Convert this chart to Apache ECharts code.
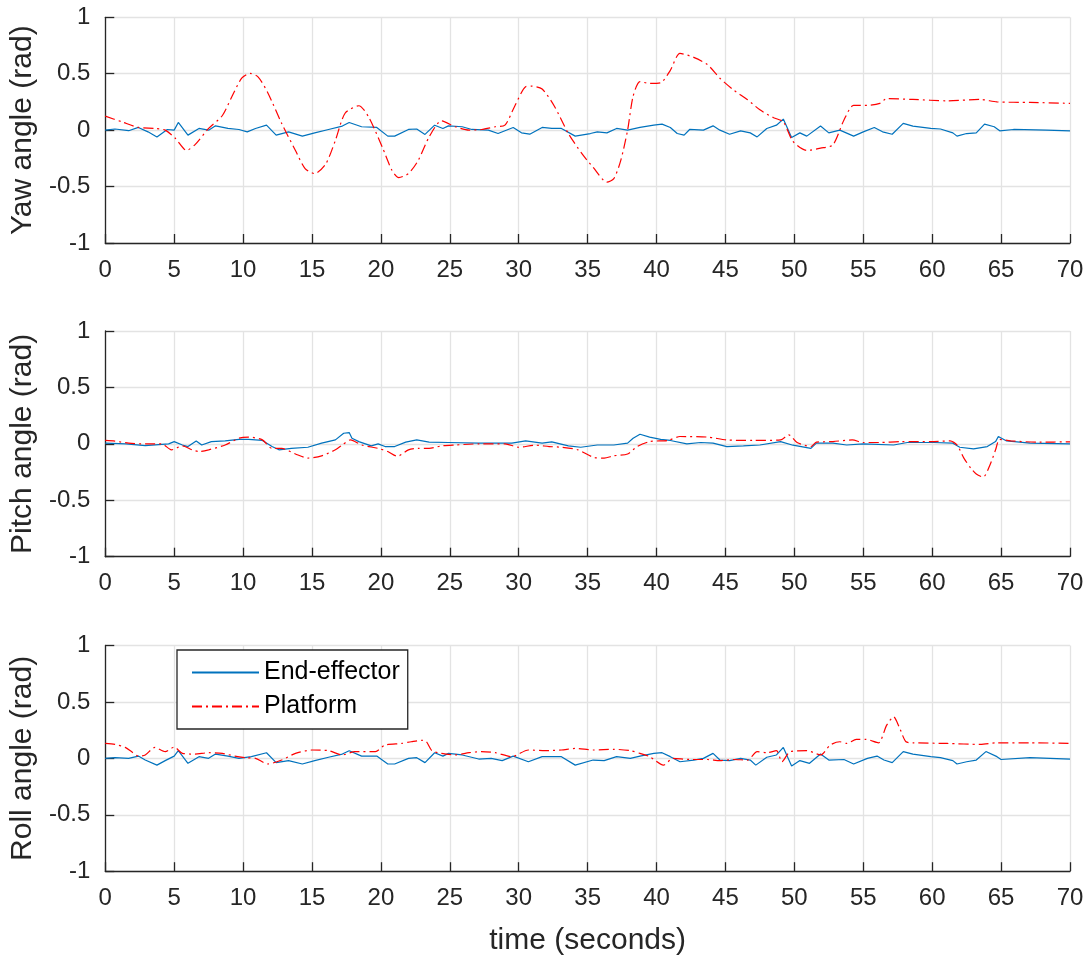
<!DOCTYPE html>
<html>
<head>
<meta charset="utf-8">
<script src="https://cdn.jsdelivr.net/npm/echarts@6/dist/echarts.min.js"></script>
<style>html,body{margin:0;padding:0;background:#fff;}#c{width:1088px;height:959px;}</style>
</head>
<body>
<div id="c"></div>
<script>
// ---- data: [time (s), angle (rad)] ----
var yawEnd = [[0,0],[0.7,0.01],[1.7,-0.005],[2.4,0.024],[3.1,-0.015],[3.75,-0.06],[4.5,0.006],[5.0,0],[5.3,0.068],[6.0,-0.044],[6.8,0.015],[7.5,0],[8.0,0.038],[8.9,0.015],[9.7,0.006],[10.3,-0.015],[10.9,0.015],[11.7,0.044],[12.4,-0.044],[13.3,-0.015],[14.3,-0.053],[15.2,-0.024],[16.2,0.006],[17.2,0.036],[17.7,0.068],[18.6,0.03],[19.7,0.024],[20.5,-0.053],[21.0,-0.053],[22.0,0.006],[22.6,0.01],[23.2,-0.038],[23.9,0.044],[24.5,0.015],[24.9,0.038],[25.9,0.03],[26.6,0.006],[27.8,0],[28.5,-0.03],[29.6,0.024],[30.2,-0.024],[30.8,-0.036],[31.7,0.024],[32.4,0.015],[33.1,0.015],[34.1,-0.053],[35.2,-0.03],[35.7,-0.015],[36.4,-0.024],[37.1,0.015],[37.9,0],[38.8,0.024],[39.8,0.044],[40.4,0.053],[41.0,0.024],[41.5,-0.03],[42.0,-0.044],[42.4,0.006],[43.4,0],[44.1,0.038],[44.6,0],[45.3,-0.036],[46.1,-0.006],[46.8,-0.024],[47.3,-0.06],[48.0,0.015],[48.7,0.044],[49.2,0.098],[49.8,-0.065],[50.4,-0.024],[50.9,-0.053],[51.9,0.036],[52.5,-0.024],[53.3,0],[54.3,-0.053],[55.0,-0.015],[55.8,0.024],[56.4,-0.015],[57.1,-0.036],[57.9,0.06],[58.6,0.036],[59.9,0.015],[60.6,0.01],[61.5,-0.024],[61.8,-0.053],[62.5,-0.03],[63.2,-0.024],[63.8,0.053],[64.5,0.03],[64.9,-0.006],[65.9,0.006],[68.3,0],[70,-0.006]];
var yawPlat = [[0,0.124],[1.2,0.074],[2.4,0.024],[3.6,0.015],[4.35,0],[5.1,-0.074],[5.9,-0.18],[6.5,-0.13],[7.5,0.015],[8.5,0.13],[9.2,0.3],[9.9,0.46],[10.5,0.503],[11.1,0.47],[11.8,0.33],[12.8,0.06],[13.8,-0.18],[14.5,-0.34],[15.2,-0.385],[16.0,-0.3],[16.7,-0.09],[17.4,0.15],[18.4,0.216],[19.1,0.12],[20.1,-0.15],[20.8,-0.355],[21.3,-0.42],[22.0,-0.385],[22.7,-0.27],[23.5,-0.06],[24.4,0.083],[25.4,0.03],[26.4,0],[27.3,0.006],[28.3,0.03],[29.0,0.044],[29.7,0.21],[30.5,0.385],[30.9,0.39],[31.7,0.364],[32.6,0.21],[33.6,-0.03],[34.6,-0.21],[35.4,-0.33],[36.4,-0.46],[36.9,-0.43],[37.4,-0.27],[37.9,0],[38.3,0.3],[38.8,0.43],[39.5,0.414],[40.3,0.42],[41.0,0.53],[41.7,0.68],[42.7,0.645],[43.7,0.58],[44.6,0.46],[45.6,0.355],[46.6,0.27],[47.5,0.18],[48.5,0.11],[49.2,0.074],[49.9,-0.1],[50.9,-0.18],[51.9,-0.16],[52.8,-0.13],[53.6,0.09],[54.3,0.22],[55.3,0.22],[56.2,0.237],[56.7,0.28],[58.6,0.272],[61.1,0.26],[63.5,0.272],[64.7,0.25],[67.1,0.246],[70,0.237]];
var pitchEnd = [[0,0.006],[1.5,0],[2.9,-0.015],[4.6,0],[5.0,0.02],[5.6,-0.01],[6.0,-0.024],[6.6,0.026],[7.0,-0.01],[7.7,0.02],[8.7,0.026],[9.7,0.04],[10.4,0.04],[11.4,0.03],[12.1,-0.024],[12.6,-0.053],[13.5,-0.04],[14.7,-0.03],[15.7,0.006],[16.7,0.035],[17.3,0.094],[17.7,0.1],[17.9,0.05],[18.4,0.02],[19.3,-0.018],[19.8,0],[20.3,-0.024],[21.0,-0.024],[21.8,0.015],[22.6,0.035],[23.5,0.015],[24.9,0.012],[27.1,0.006],[29.5,0.006],[30.5,0.026],[31.7,0.006],[32.4,0.018],[33.6,-0.018],[34.5,-0.03],[35.7,-0.01],[36.9,-0.01],[37.9,0.006],[38.3,0.05],[38.8,0.085],[39.5,0.06],[40.3,0.04],[41.0,0.03],[42.2,0],[43.2,0.012],[44.1,0.006],[45.1,-0.024],[46.3,-0.018],[47.5,-0.01],[49.0,0.02],[49.9,-0.012],[51.2,-0.04],[51.6,0.006],[52.8,0.006],[53.8,-0.01],[55.0,0],[57.2,-0.01],[58.2,0.012],[60.1,0.012],[61.5,0.006],[62.0,-0.03],[63.0,-0.044],[64.0,-0.024],[64.6,0.02],[64.8,0.065],[65.4,0.026],[67.1,0.006],[70,0]];
var pitchPlat = [[0,0.03],[0.7,0.024],[1.7,0.006],[2.9,0],[4.1,0],[4.8,-0.053],[5.6,-0.018],[6.3,-0.053],[6.8,-0.068],[7.5,-0.053],[8.7,-0.01],[9.7,0.05],[10.4,0.06],[11.4,0.035],[12.1,-0.04],[12.8,-0.04],[13.8,-0.09],[14.7,-0.126],[15.7,-0.106],[16.7,-0.053],[17.2,-0.01],[17.8,0.035],[18.6,-0.01],[19.8,-0.04],[20.5,-0.068],[21.2,-0.11],[22.0,-0.053],[22.7,-0.04],[23.5,-0.04],[24.4,-0.018],[25.4,-0.01],[27.1,0],[29.0,0],[30.0,-0.03],[31.2,-0.012],[32.2,-0.024],[33.1,-0.03],[34.3,-0.053],[35.4,-0.118],[36.2,-0.126],[36.9,-0.106],[37.9,-0.09],[38.6,-0.024],[39.5,0.02],[40.8,0.03],[41.7,0.065],[43.7,0.06],[45.1,0.035],[47.0,0.03],[49.0,0.035],[49.6,0.08],[50.2,0.012],[51.2,-0.024],[51.6,0.015],[52.8,0.02],[54.2,0.035],[55.0,0.012],[56.2,0.012],[57.7,0.02],[59.9,0.02],[61.3,0.026],[61.8,-0.01],[62.3,-0.126],[62.8,-0.215],[63.2,-0.268],[63.7,-0.294],[64.2,-0.185],[64.6,-0.053],[64.9,0.04],[65.7,0.026],[67.8,0.015],[70,0.018]];
var rollEnd = [[0,0],[0.7,0.006],[1.7,0],[2.4,0.02],[2.9,-0.015],[3.75,-0.06],[4.35,-0.02],[5.0,0.02],[5.3,0.068],[6.0,-0.044],[6.8,0.015],[7.5,0],[8.0,0.038],[8.9,0.02],[9.7,0],[10.6,0.015],[11.7,0.05],[12.4,-0.038],[13.3,-0.02],[14.3,-0.05],[15.2,-0.02],[16.2,0.01],[17.2,0.038],[17.7,0.068],[18.6,0.02],[19.7,0.02],[20.5,-0.05],[21.0,-0.05],[22.0,0],[22.6,0.006],[23.2,-0.038],[23.9,0.05],[24.5,0.02],[24.9,0.044],[25.9,0.03],[27.1,-0.006],[28.0,0],[28.8,-0.02],[29.6,0.02],[30.7,-0.03],[31.7,0.015],[33.1,0.015],[34.1,-0.06],[35.4,-0.015],[36.2,-0.02],[37.1,0.015],[38.1,0],[38.8,0.02],[39.8,0.044],[40.4,0.05],[41.0,0.015],[41.7,-0.03],[42.7,-0.015],[43.4,0],[44.1,0.044],[44.6,-0.015],[45.3,-0.02],[46.1,0],[46.8,-0.015],[47.2,-0.06],[48.0,0.01],[48.7,0.03],[49.2,0.097],[49.8,-0.068],[50.4,-0.02],[51.1,-0.044],[51.9,0.038],[52.5,-0.015],[53.6,-0.01],[54.3,-0.05],[55.3,0],[56.0,0.02],[56.5,-0.015],[57.1,-0.038],[57.9,0.06],[58.6,0.038],[59.9,0.015],[60.6,0.006],[61.5,-0.02],[61.8,-0.05],[62.5,-0.03],[63.2,-0.015],[63.9,0.06],[64.7,0.015],[65.0,-0.01],[67.1,0.006],[70,-0.006]];
var rollPlat = [[0,0.132],[0.7,0.124],[1.45,0.097],[1.9,0.06],[2.4,0.02],[2.9,0.03],[3.6,0.097],[4.35,0.06],[5.0,0.1],[5.6,0.044],[6.5,0.038],[7.5,0.05],[8.5,0.044],[9.4,0.02],[10.2,0.006],[10.9,0],[11.8,-0.05],[12.8,-0.015],[13.8,0.044],[15.0,0.074],[16.2,0.068],[17.2,0.03],[18.1,0.06],[19.6,0.06],[20.3,0.118],[21.5,0.132],[22.2,0.147],[22.97,0.16],[23.3,0.147],[23.7,0.068],[24.4,0.044],[25.4,0.03],[26.4,0.05],[27.3,0.06],[28.3,0.05],[29.5,0.015],[30.7,0.074],[31.9,0.068],[33.1,0.074],[34.1,0.088],[35.4,0.074],[36.9,0.08],[38.1,0.068],[38.8,0.044],[39.5,0.015],[40.5,-0.06],[41.2,0],[42.4,-0.01],[43.7,-0.01],[44.6,-0.02],[45.6,-0.01],[46.6,-0.015],[47.3,0.06],[48.0,0.05],[48.7,0.068],[49.1,-0.03],[49.7,0.06],[50.9,0.068],[51.9,0.03],[52.6,0.118],[53.3,0.147],[53.8,0.132],[54.5,0.168],[55.2,0.168],[56.1,0.138],[56.7,0.294],[57.2,0.368],[57.6,0.28],[58.1,0.147],[58.6,0.138],[61.1,0.132],[63.5,0.124],[64.7,0.138],[67.1,0.138],[70,0.132]];
var xTicks = [0,5,10,15,20,25,30,35,40,45,50,55,60,65,70];
var yTicks = [-1,-0.5,0,0.5,1];
var yNames = ['Yaw angle (rad)','Pitch angle (rad)','Roll angle (rad)'];
var xName = 'time (seconds)';
var seriesNames = ['End-effector','Platform'];

var FONT = 'Liberation Sans, Arial, Helvetica, sans-serif';
var chart = echarts.init(document.getElementById('c'), null, {renderer:'canvas'});
var tops = [17.3, 331, 645.5];
var H = 225.7;
var grids = [], xAxes = [], yAxes = [], series = [];
var ends = [yawEnd, pitchEnd, rollEnd], plats = [yawPlat, pitchPlat, rollPlat];
for (var i = 0; i < 3; i++) {
  grids.push({left:105, right:18, top:tops[i], height:H, containLabel:false});
  xAxes.push({
    type:'value', gridIndex:i, min:0, max:70, interval:5,
    name: i===2 ? xName : '', nameLocation:'middle', nameGap:55,
    nameTextStyle:{fontFamily:FONT, fontSize:30, color:'#262626'},
    axisLine:{show:true, onZero:false, lineStyle:{color:'#262626', width:1.3}},
    axisTick:{show:true, inside:true, length:9, lineStyle:{color:'#262626', width:1.3}},
    axisLabel:{fontFamily:FONT, fontSize:24, color:'#262626', margin:15,
      formatter:function(v){return xTicks.indexOf(v)>=0 ? String(v) : '';}},
    splitLine:{show:true, lineStyle:{color:'#e3e3e3', width:1.3}}
  });
  yAxes.push({
    type:'value', gridIndex:i, min:-1, max:1, interval:0.5,
    name: yNames[i], nameLocation:'middle', nameGap:59, nameRotate:90,
    nameTextStyle:{fontFamily:FONT, fontSize:30, color:'#262626'},
    axisLine:{show:true, lineStyle:{color:'#262626', width:1.3}},
    axisTick:{show:true, inside:true, length:9, lineStyle:{color:'#262626', width:1.3}},
    axisLabel:{fontFamily:FONT, fontSize:24, color:'#262626', margin:15,
      formatter:function(v){return yTicks.indexOf(v)>=0 ? String(v) : '';}},
    splitLine:{show:true, lineStyle:{color:'#e3e3e3', width:1.3}}
  });
  series.push({
    name:seriesNames[0], type:'line', xAxisIndex:i, yAxisIndex:i, data:ends[i],
    showSymbol:false, symbol:'none', animation:false,
    lineStyle:{color:'#0072BD', width:1.2}, itemStyle:{color:'#0072BD'}
  });
  series.push({
    name:seriesNames[1], type:'line', xAxisIndex:i, yAxisIndex:i, data:plats[i],
    showSymbol:false, symbol:'none', animation:false, smooth:0.25,
    lineStyle:{color:'#FF0000', width:1.2, type:[10,4,2,4]}, itemStyle:{color:'#FF0000'}
  });
}
chart.setOption({
  backgroundColor:'#ffffff',
  animation:false,
  grid:grids, xAxis:xAxes, yAxis:yAxes, series:series,
  legend:{
    show:true, data:seriesNames, orient:'vertical', left:177, top:650,
    backgroundColor:'#ffffff', borderColor:'#262626', borderWidth:1.3,
    padding:[10,8,10,14], itemGap:9, itemWidth:67, itemHeight:14,
    itemStyle:{opacity:0},
    textStyle:{fontFamily:FONT, fontSize:25, color:'#000'}
  }
});
</script>
</body>
</html>
